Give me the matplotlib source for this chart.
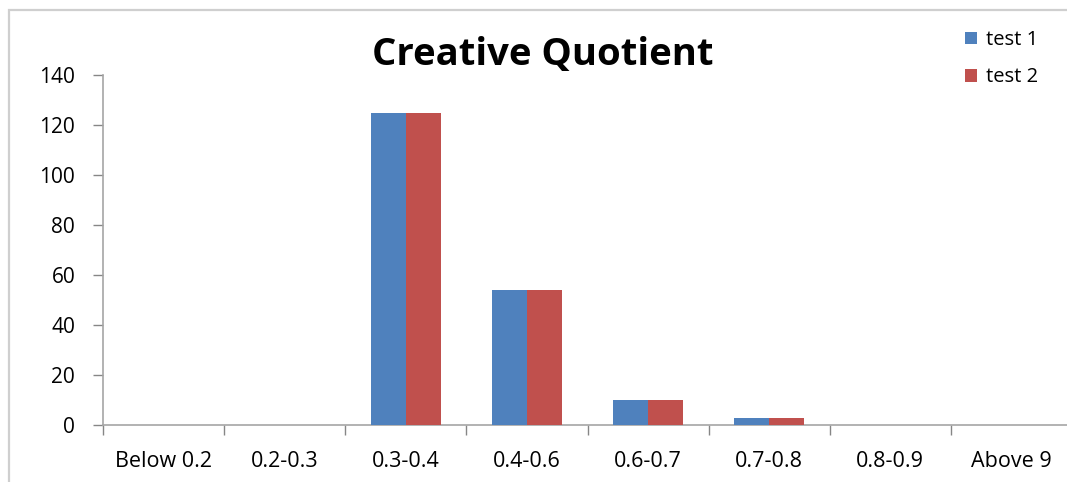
import matplotlib
matplotlib.use("Agg")
import matplotlib.pyplot as plt
from matplotlib.patches import Rectangle, Patch
import numpy as np

categories = ["Below 0.2", "0.2-0.3", "0.3-0.4", "0.4-0.6", "0.6-0.7", "0.7-0.8", "0.8-0.9", "Above 9"]
test1 = [0, 0, 125, 54, 10, 3, 0, 0]
test2 = [0, 0, 125, 54, 10, 3, 0, 0]
series_names = ["test 1", "test 2"]
colors = ["#4F81BD", "#C0504D"]

plt.rcParams['font.family'] = ['Open Sans', 'DejaVu Sans']

W, H = 1067, 482
fig = plt.figure(figsize=(W / 100, H / 100), dpi=100)

# outer chart frame
fig.patches.append(Rectangle((9 / W, -0.1), 1.2, 1 - 10 / H + 0.1, transform=fig.transFigure,
                             fill=False, edgecolor="#cfcfcf", linewidth=1.6))

ax = fig.add_axes([103 / W, 1 - 425 / H, (1072 - 103) / W, (425 - 75) / H])
ax.set_clip_on(False)

x = np.arange(len(categories))
bw = 0.29
ax.bar(x - bw / 2, test1, width=bw, color=colors[0], label=series_names[0], zorder=3)
ax.bar(x + bw / 2, test2, width=bw, color=colors[1], label=series_names[1], zorder=3)

ax.set_xlim(-0.5, len(categories) - 0.5)
ax.set_ylim(0, 140)
ax.set_yticks(range(0, 141, 20))

ax.set_xticks(x)
ax.set_xticklabels(categories, fontsize=15.5)
ax.set_xticks(np.arange(-0.5, len(categories) + 0.5, 1), minor=True)
ax.tick_params(axis="x", which="major", length=0, pad=19)
ax.tick_params(axis="x", which="minor", length=7, width=1, color="#868686", direction="out")
ax.tick_params(axis="y", length=7, width=1, color="#868686", pad=13, labelsize=15)

for s in ["top", "right"]:
    ax.spines[s].set_visible(False)
for s in ["left", "bottom"]:
    ax.spines[s].set_color("#a6a6a6")
    ax.spines[s].set_linewidth(1.2)

fig.text(543 / W, 1 - 55 / H, "Creative Quotient", ha="center", va="center",
         fontsize=27.5, fontweight="bold")

handles = [Patch(facecolor=c, label=n) for c, n in zip(colors, series_names)]
fig.legend(handles=handles, loc="upper left", bbox_to_anchor=(947 / W, 1 - 12 / H),
           frameon=False, fontsize=14.5, handlelength=0.6, handleheight=0.6,
           handletextpad=0.45, labelspacing=0.85)

fig.savefig("out.png", dpi=100)
